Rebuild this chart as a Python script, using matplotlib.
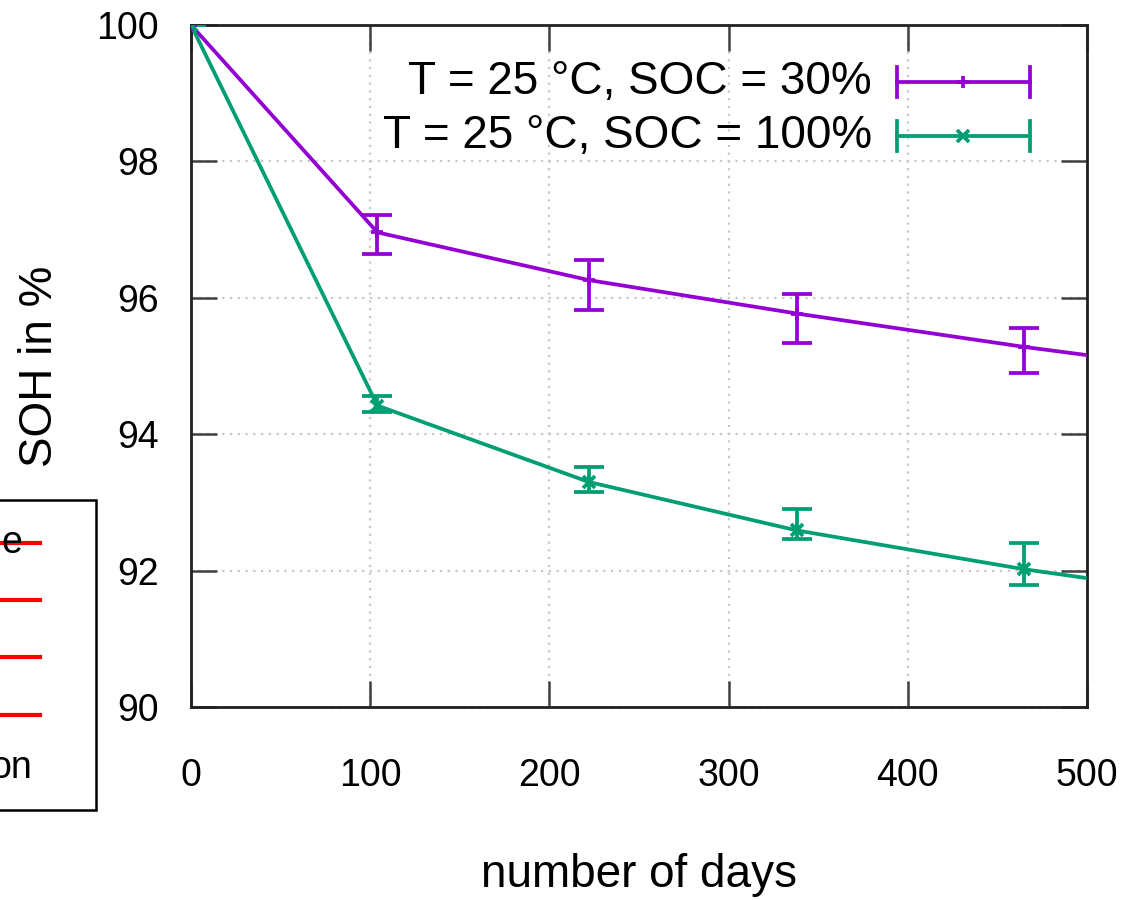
import matplotlib.pyplot as plt
from matplotlib.lines import Line2D
from matplotlib.patches import Rectangle

plt.rcParams['font.family'] = ['Liberation Sans', 'DejaVu Sans']

PURPLE = '#9400d3'
GREEN = '#009e73'

# measured points (days, SOH %) with error bar limits
days = [0, 104, 222, 338, 465]
soh_30 = [100.0, 96.96, 96.26, 95.77, 95.28]
low_30 = [100.0, 96.64, 95.82, 95.34, 94.90]
high_30 = [100.0, 97.22, 96.56, 96.06, 95.56]

soh_100 = [100.0, 94.42, 93.30, 92.59, 92.02]
low_100 = [100.0, 94.32, 93.16, 92.46, 91.79]
high_100 = [100.0, 94.56, 93.52, 92.90, 92.40]

# curve continues to the right border
line_days = days + [500]
line_30 = soh_30 + [95.16]
line_100 = soh_100 + [91.89]

labels = ['T = 25 °C, SOC = 30%', 'T = 25 °C, SOC = 100%']
xticks = [0, 100, 200, 300, 400, 500]
yticks = [90, 92, 94, 96, 98, 100]

fig = plt.figure(figsize=(11.27, 9), dpi=100)
ax = fig.add_axes([0.1695, 0.2144, 0.795, 0.7578])

LW = 2.7
for d, s, lo, hi, ln, col, mk in [
        (days, soh_30, low_30, high_30, line_30, PURPLE, '+'),
        (days, soh_100, low_100, high_100, line_100, GREEN, 'x')]:
    ax.plot(line_days, ln, color=col, lw=LW, zorder=3)
    yerr = [[v - l for v, l in zip(s, lo)], [h - v for v, h in zip(s, hi)]]
    ax.errorbar(d, s, yerr=yerr, fmt=mk, color=col, ms=9, mew=LW,
                elinewidth=LW, capsize=10.5, capthick=LW, zorder=4)

ax.set_xlim(0, 500)
ax.set_ylim(90, 100)
ax.set_xticks(xticks)
ax.set_yticks(yticks)
ax.grid(True, color='#c8c8c8', linestyle=(0, (1, 2.5)), lw=1.6)
ax.tick_params(direction='in', length=19, width=1.8, color='#404040',
               top=True, right=True, labelsize=27)
ax.tick_params(axis='y', pad=23)
ax.tick_params(axis='x', pad=37)
for sp in ax.spines.values():
    sp.set_linewidth(2)
    sp.set_color('#202020')

ax.set_xlabel('number of days', fontsize=33, va='center')
ax.set_ylabel('SOH in %', fontsize=33, va='center')
ax.xaxis.set_label_coords(0.5, -(875 - 707) / 682)
ax.yaxis.set_label_coords(-(191 - 40) / 896, 0.5)

# gnuplot style key: text right-aligned, sample with whiskers on the right
for i, (lab, col, mk) in enumerate([(labels[0], PURPLE, '+'), (labels[1], GREEN, 'x')]):
    yf = 1 - (82 + 54 * i) / 900
    x0, x1 = 897 / 1127, 1030 / 1127
    fig.text(872 / 1127, yf, lab, fontsize=33, ha='right', va='center')
    fig.add_artist(Line2D([x0, x1], [yf, yf], color=col, lw=LW))
    for xc in (x0, x1):
        fig.add_artist(Line2D([xc, xc], [yf - 15 / 900, yf + 15 / 900], color=col, lw=LW))
    fig.add_artist(Line2D([(x0 + x1) / 2], [yf], marker=mk, color=col, ms=9, mew=LW))

# clipped key box of a neighbouring figure at the left edge
fig.add_artist(Rectangle((-0.01, 1 - 810 / 900), 0.01 + 96 / 1127, 310 / 900,
                         fill=False, edgecolor='black', lw=1.8))
for yp in [543, 600, 657, 715]:
    fig.add_artist(Line2D([0, 40 / 1127], [1 - yp / 900] * 2, color='#ff0000', lw=3))
fig.text(22 / 1127, 1 - 543 / 900, 'e', fontsize=27, ha='right', va='center')
fig.text(32 / 1127, 1 - 768 / 900, 'on', fontsize=27, ha='right', va='center')

fig.savefig('out.png', dpi=100)
